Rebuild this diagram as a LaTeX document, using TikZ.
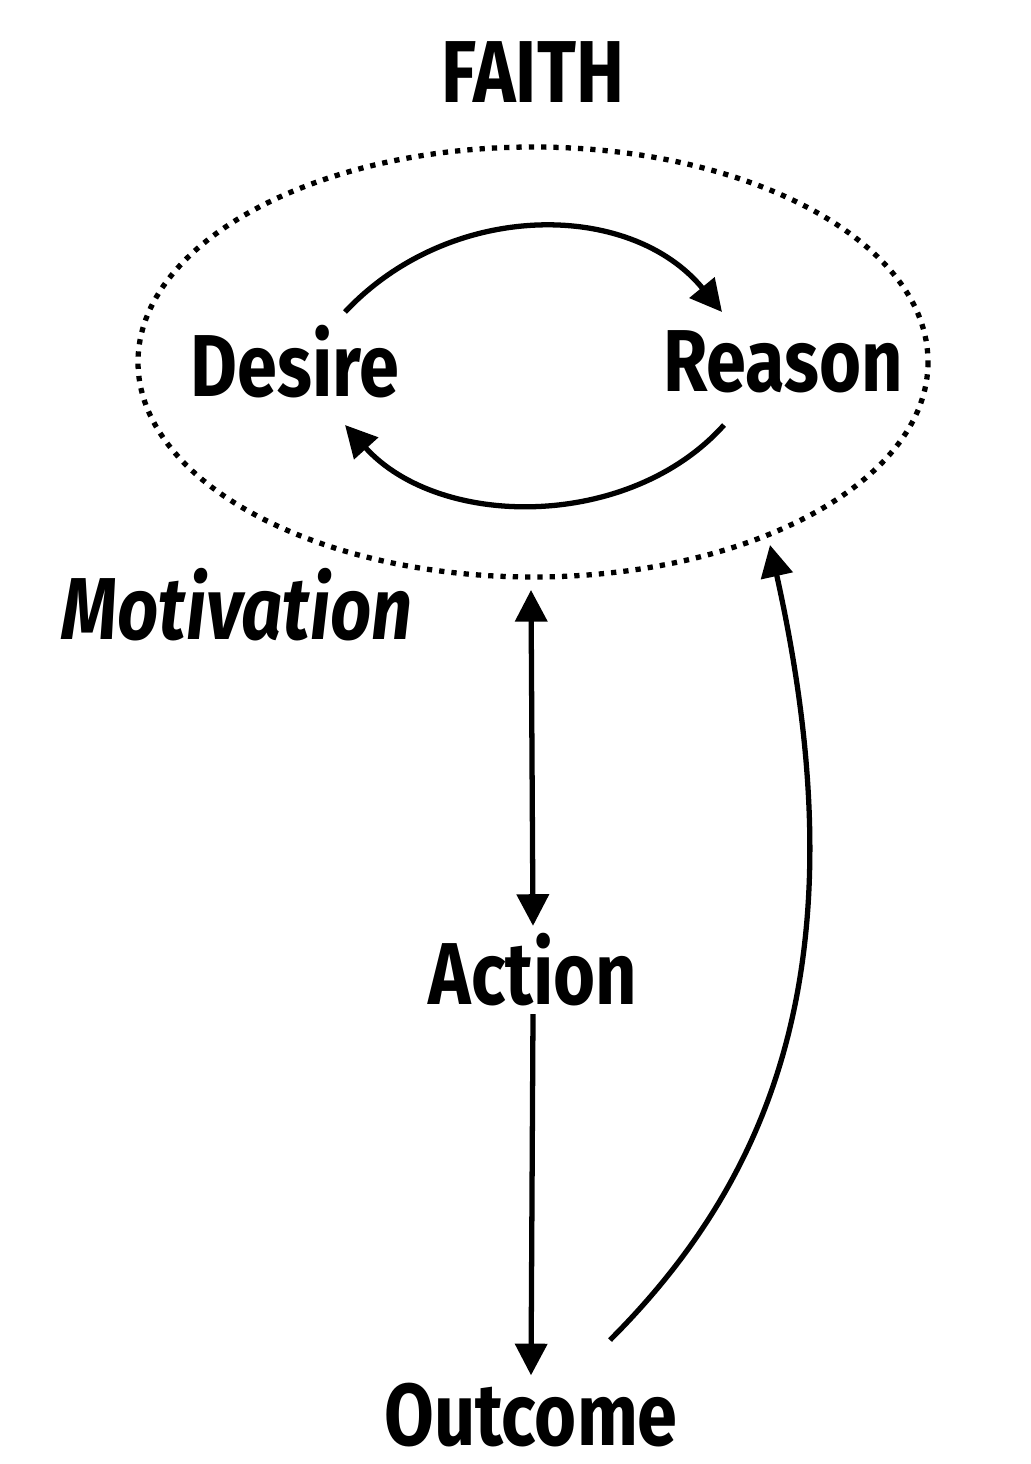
\documentclass[tikz,border=0pt]{standalone}
\usepackage{fontspec}
\setmainfont{Fira Sans}[FakeStretch=0.82]
\usetikzlibrary{arrows.meta}
\tikzset{
  lbl/.style={font=\fontsize{25}{28}\selectfont\bfseries, inner sep=2pt},
  arr/.style={line width=1.5pt, -{Triangle[length=9pt,width=9pt]}},
  darr/.style={line width=1.5pt, {Triangle[length=9pt,width=9pt]}-{Triangle[length=9pt,width=9pt]}}
}
\begin{document}
\begin{tikzpicture}[x=0.01cm,y=-0.01cm]
   \useasboundingbox (0,0) rectangle (1030,1464);
   \node[lbl] (faith) at (533,72) {FAITH};
   \node[lbl] (desire) at (295,362) {Desire};
   \node[lbl] (reason) at (783,362) {Reason};
   \node[lbl, font=\fontsize{25}{28}\selectfont\bfseries\itshape] (motiv) at (237,605) {Motivation};
   \node[lbl] (action) at (533,970) {Action};
   \node[lbl] (outcome) at (531,1415) {Outcome};
   \draw[line width=1.5pt, dotted] (533,362) ellipse (395 and 215);
   % arc ends
   \coordinate (ebot) at (531,590);
   \coordinate (eright) at (770,545);
   \draw[arr] (345,312) .. controls (450,200) and (630,200) .. (722,312);
   \draw[arr] (724,425) .. controls (630,530) and (440,530) .. (345,425);
   \draw[darr] (ebot) -- (action.north);
   \draw[arr] (action.south) -- (outcome.north);
   \draw[arr] (610,1340) .. controls (780,1170) and (860,950) .. (eright);
\end{tikzpicture}
\end{document}
